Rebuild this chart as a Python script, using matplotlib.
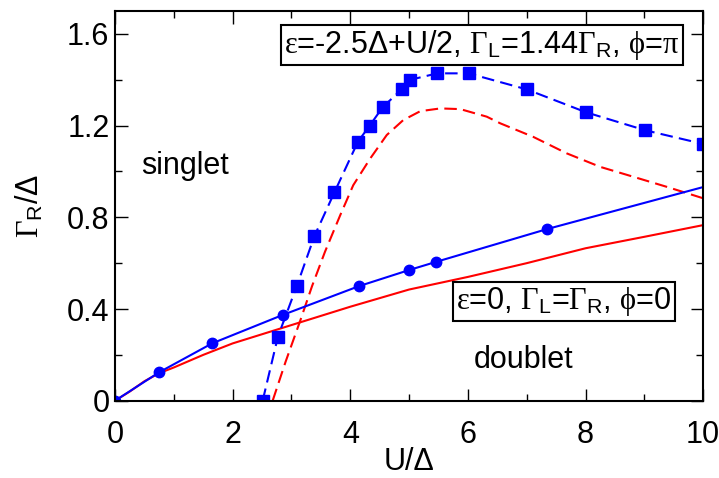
import matplotlib
matplotlib.use('Agg')
import matplotlib.pyplot as plt
from matplotlib.ticker import MultipleLocator

plt.rcParams['font.family'] = ['Liberation Sans', 'DejaVu Sans']
plt.rcParams['mathtext.fontset'] = 'custom'
plt.rcParams['mathtext.rm'] = 'Liberation Serif'
plt.rcParams['mathtext.it'] = 'Liberation Serif'
plt.rcParams['mathtext.sf'] = 'Liberation Sans'

# eps=0, phi=0 : NRG (circles) and analytic (red solid)
u_nrg0 = [0, 0.75, 1.65, 2.85, 4.15, 5.0, 5.45, 7.35, 10.0]
g_nrg0 = [0, 0.124, 0.25, 0.374, 0.50, 0.57, 0.605, 0.749, 0.932]
u_th0 = [0, 0.25, 0.5, 0.75, 1.0, 1.5, 2.0, 2.5, 3.0, 3.5, 4.0, 5.0, 6.0, 7.0, 8.0, 9.0, 10.0]
g_th0 = [0, 0.04, 0.085, 0.12, 0.145, 0.20, 0.25, 0.29, 0.33, 0.37, 0.41, 0.485, 0.54, 0.60, 0.665, 0.715, 0.766]

# eps=-2.5D+U/2, phi=pi : NRG (squares) and analytic (red dashed)
u_nrgpi = [2.51, 2.77, 3.09, 3.39, 3.73, 4.13, 4.33, 4.55, 4.88, 5.02, 5.48, 6.01, 7.0, 8.01, 9.01, 10.0]
g_nrgpi = [0, 0.28, 0.50, 0.718, 0.909, 1.13, 1.20, 1.28, 1.36, 1.40, 1.428, 1.428, 1.358, 1.258, 1.18, 1.12]
u_thpi = [2.68, 2.9, 3.15, 3.35, 3.57, 3.83, 4.05, 4.34, 4.62, 4.90, 5.19, 5.53, 5.87, 6.32,
          6.55, 7.11, 7.68, 8.25, 8.81, 9.38, 10.0]
g_thpi = [0, 0.17, 0.35, 0.50, 0.65, 0.81, 0.94, 1.057, 1.159, 1.224, 1.263, 1.275, 1.272, 1.239,
          1.21, 1.151, 1.079, 1.02, 0.977, 0.933, 0.883]

fig = plt.figure(figsize=(7.19, 4.78), dpi=100)
ax = fig.add_axes([0.160, 0.1617, 0.818, 0.8153])

ax.plot(u_th0, g_th0, color='red', lw=1.5)
ax.plot(u_thpi, g_thpi, color='red', lw=1.5, ls=(0, (6, 3)))
ax.plot(u_nrg0, g_nrg0, color='blue', lw=1.5, marker='o', ms=7.5,
        markevery=list(range(len(u_nrg0) - 1)))
ax.plot(u_nrgpi, g_nrgpi, color='blue', lw=1.5, ls=(0, (6, 3)), marker='s', ms=8.5)

ax.set_xlim(0, 10)
ax.set_ylim(0, 1.7)
ax.xaxis.set_major_locator(MultipleLocator(2))
ax.xaxis.set_minor_locator(MultipleLocator(1))
ax.set_yticks([0, 0.4, 0.8, 1.2, 1.6])
ax.set_yticklabels(['0', '0.4', '0.8', '1.2', '1.6'])
ax.yaxis.set_minor_locator(MultipleLocator(0.2))
ax.tick_params(which='both', direction='in', top=True, right=True, labelsize=22, width=1)
ax.tick_params(which='major', length=9)
ax.tick_params(which='minor', length=5)
ax.tick_params(axis='x', pad=14)
ax.tick_params(axis='y', pad=4)
for s in ax.spines.values():
    s.set_linewidth(1.5)

ax.set_xlabel(r'U/Δ', fontsize=22)
ax.xaxis.set_label_coords(0.5, -0.118)
ax.set_ylabel(r'$\Gamma_{\mathsf{R}}$/Δ', fontsize=22)
ax.yaxis.set_label_coords(-0.118, 0.5)

ax.text(0.45, 1.023, 'singlet', fontsize=22, va='center', ha='left')
ax.text(6.95, 0.178, 'doublet', fontsize=22, va='center', ha='center')

box = dict(boxstyle='square,pad=0.1', fc='white', ec='black', lw=1.5)
ax.text(6.24, 1.551, r'$\varepsilon$=-2.5Δ+U/2, $\Gamma_{\mathsf{L}}$=1.44$\Gamma_{\mathsf{R}}$, $\phi$=$\pi$',
        fontsize=22, ha='center', va='center', bbox=box)
ax.text(7.63, 0.433, r'$\varepsilon$=0, $\Gamma_{\mathsf{L}}$=$\Gamma_{\mathsf{R}}$, $\phi$=0',
        fontsize=22, ha='center', va='center', bbox=box)

fig.savefig('out.png', dpi=100)
